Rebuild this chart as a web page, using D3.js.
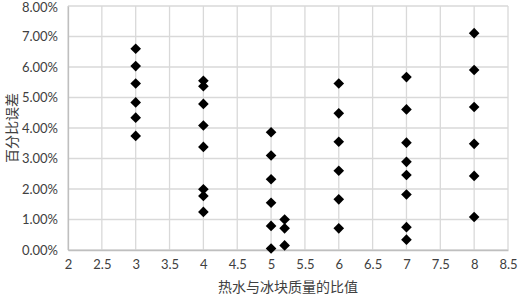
<!DOCTYPE html>
<html>
<head>
<meta charset="utf-8">
<script src="https://cdn.jsdelivr.net/npm/d3@7"></script>
<style>
  body { margin: 0; background: #fff; }
  svg { display: block; }
</style>
</head>
<body>
<div id="chart"></div>
<script>
// ratio of hot water to ice mass, and the percent error measured at each
var ratios = [3, 3, 3, 3, 3, 3,
              4, 4, 4, 4, 4, 4, 4, 4,
              5, 5, 5, 5, 5, 5,
              5.2, 5.2, 5.2,
              6, 6, 6, 6, 6, 6,
              7, 7, 7, 7, 7, 7, 7, 7,
              8, 8, 8, 8, 8, 8];
var errors = [6.60, 6.03, 5.46, 4.84, 4.34, 3.74,
              5.55, 5.37, 4.79, 4.08, 3.38, 1.99, 1.77, 1.25,
              3.86, 3.10, 2.32, 1.55, 0.79, 0.05,
              1.00, 0.71, 0.15,
              5.46, 4.48, 3.55, 2.60, 1.66, 0.71,
              5.67, 4.61, 3.52, 2.89, 2.46, 1.82, 0.75, 0.34,
              7.11, 5.90, 4.69, 3.48, 2.43, 1.08];
var xTicks = [2, 2.5, 3, 3.5, 4, 4.5, 5, 5.5, 6, 6.5, 7, 7.5, 8, 8.5];
var yTicks = [0, 1, 2, 3, 4, 5, 6, 7, 8];

var width = 519, height = 298;
var margin = {top: 6, right: 11, bottom: 48, left: 68};
var w = width - margin.left - margin.right;
var h = height - margin.top - margin.bottom;

var svg = d3.select('#chart').append('svg')
  .attr('width', width)
  .attr('height', height);

var g = svg.append('g')
  .attr('transform', 'translate(' + margin.left + ',' + margin.top + ')');

var x = d3.scaleLinear().domain([2, 8.5]).range([0, w]);
var y = d3.scaleLinear().domain([0, 8]).range([h, 0]);

// grid
g.selectAll('.vgrid').data(xTicks).enter().append('line')
  .attr('x1', function(d) { return x(d); })
  .attr('x2', function(d) { return x(d); })
  .attr('y1', 0).attr('y2', h)
  .attr('stroke', '#d9d9d9').attr('stroke-width', 1.3);
g.selectAll('.hgrid').data(yTicks).enter().append('line')
  .attr('x1', 0).attr('x2', w)
  .attr('y1', function(d) { return y(d); })
  .attr('y2', function(d) { return y(d); })
  .attr('stroke', '#d9d9d9').attr('stroke-width', 1.3);

var font = 'Lato, "Open Sans", sans-serif';

var xAxis = d3.axisBottom(x).tickValues(xTicks).tickSize(0).tickPadding(10)
  .tickFormat(function(d) { return String(d); });
var yAxis = d3.axisLeft(y).tickValues(yTicks).tickSize(0).tickPadding(10)
  .tickFormat(function(d) { return d.toFixed(2) + '%'; });

var gx = g.append('g').attr('transform', 'translate(0,' + h + ')').call(xAxis);
var gy = g.append('g').call(yAxis);
[gx, gy].forEach(function(a) {
  a.select('.domain').attr('stroke', '#bfbfbf').attr('stroke-width', 1.3);
  a.selectAll('text').attr('font-family', font).attr('font-size', 13).attr('fill', '#404040');
});
// keep the top label inside the page
gy.selectAll('text').filter(function(d) { return d === 8; }).attr('dy', '0.42em');

// points
var diamond = d3.symbol().type(d3.symbolDiamond2).size(72);
g.selectAll('.pt').data(ratios).enter().append('path')
  .attr('d', diamond)
  .attr('transform', function(d, i) {
    return 'translate(' + x(d) + ',' + y(errors[i]) + ')';
  })
  .attr('fill', '#000');

// axis titles
svg.append('text')
  .attr('x', margin.left + w / 2)
  .attr('y', 292)
  .attr('text-anchor', 'middle')
  .attr('font-family', '"Noto Sans CJK SC", sans-serif')
  .attr('font-size', 14)
  .attr('fill', '#404040')
  .text('热水与冰块质量的比值');

svg.append('text')
  .attr('transform', 'translate(17,' + (margin.top + h / 2) + ') rotate(-90)')
  .attr('text-anchor', 'middle')
  .attr('font-family', '"Noto Sans CJK SC", sans-serif')
  .attr('font-size', 14)
  .attr('fill', '#404040')
  .text('百分比误差');
</script>
</body>
</html>
